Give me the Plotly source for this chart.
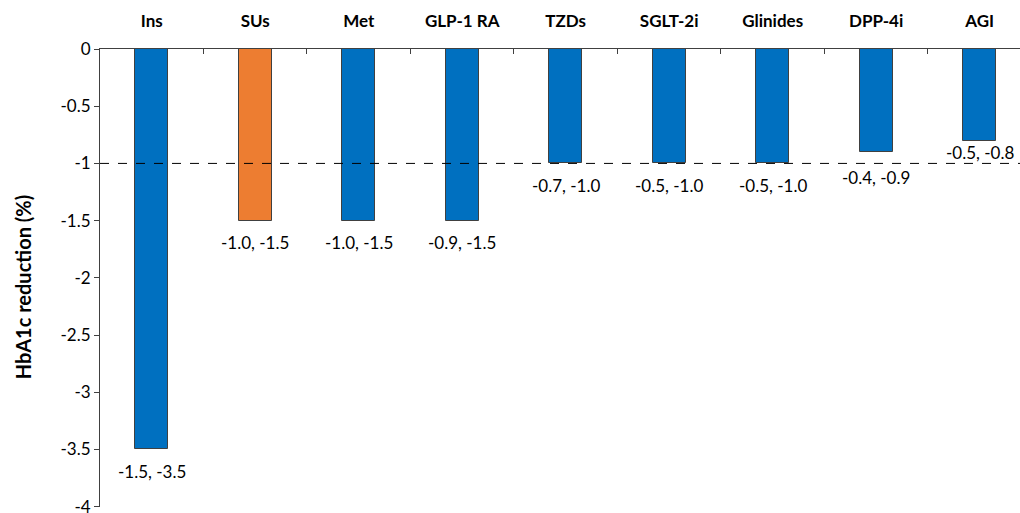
import plotly.graph_objects as go

# Drug classes and their HbA1c reduction ranges (%)
classes = ["Ins", "SUs", "Met", "GLP-1 RA", "TZDs", "SGLT-2i", "Glinides", "DPP-4i", "AGI"]
range_low = [-1.5, -1.0, -1.0, -0.9, -0.7, -0.5, -0.5, -0.4, -0.5]
range_high = [-3.5, -1.5, -1.5, -1.5, -1.0, -1.0, -1.0, -0.9, -0.8]
highlight = ["SUs"]

y_ticks = [0, -0.5, -1, -1.5, -2, -2.5, -3, -3.5, -4]
y_tick_text = ["0", "-0.5", "-1", "-1.5", "-2", "-2.5", "-3", "-3.5", "-4"]

BLUE = "#0070C0"
ORANGE = "#ED7D31"
FONT = "Lato, 'Open Sans', sans-serif"

colors = [ORANGE if c in highlight else BLUE for c in classes]

fig = go.Figure()
fig.add_trace(go.Bar(
    x=classes,
    y=range_high,
    width=0.32,
    marker=dict(color=colors, line=dict(color="#404040", width=1)),
    showlegend=False,
    hoverinfo="skip",
))

# Range labels under each bar
label_shift = {"DPP-4i": -26, "AGI": -12}
for c, lo, hi in zip(classes, range_low, range_high):
    fig.add_annotation(
        x=c, y=hi, xref="x", yref="y",
        text=f"{lo:.1f}, {hi:.1f}",
        showarrow=False,
        yanchor="middle",
        yshift=label_shift.get(c, -22),
        font=dict(family=FONT, size=17, color="#000000"),
    )

# Reference line at -1 %
fig.add_shape(
    type="line", xref="paper", yref="y",
    x0=0, x1=1, y0=-1, y1=-1,
    line=dict(color="#000000", width=1, dash="dash"),
    layer="above",
)

# Y-axis title
fig.add_annotation(
    xref="paper", yref="paper", x=0, y=0.48,
    xanchor="center", yanchor="middle",
    xshift=-77, text="<b>HbA1c reduction (%)</b>",
    textangle=-90, showarrow=False,
    font=dict(family=FONT, size=20, color="#000000"),
)

fig.update_layout(
    width=1020, height=513,
    margin=dict(l=100, r=0, t=49, b=6),
    paper_bgcolor="white", plot_bgcolor="white",
    font=dict(family=FONT, size=17, color="#000000"),
    bargap=0,
)
fig.update_xaxes(
    side="top",
    type="category",
    range=[-0.5, 8.39],
    tickson="boundaries",
    ticks="inside",
    ticklen=5,
    tickcolor="#404040",
    showline=True,
    linecolor="#404040",
    linewidth=1,
    showgrid=False,
    zeroline=False,
    automargin=False,
    ticklabelstandoff=14,
    tickfont=dict(family=FONT, size=17, color="#000000", weight="bold"),
)
fig.update_yaxes(
    range=[-4.003, 0],
    tickvals=y_ticks,
    ticktext=y_tick_text,
    ticks="outside",
    ticklen=5,
    tickcolor="#404040",
    showline=True,
    linecolor="#404040",
    linewidth=1,
    showgrid=False,
    zeroline=False,
    automargin=False,
    ticklabeloverflow="allow",
    tickfont=dict(family=FONT, size=17, color="#000000"),
)

fig.write_html("out.html")
